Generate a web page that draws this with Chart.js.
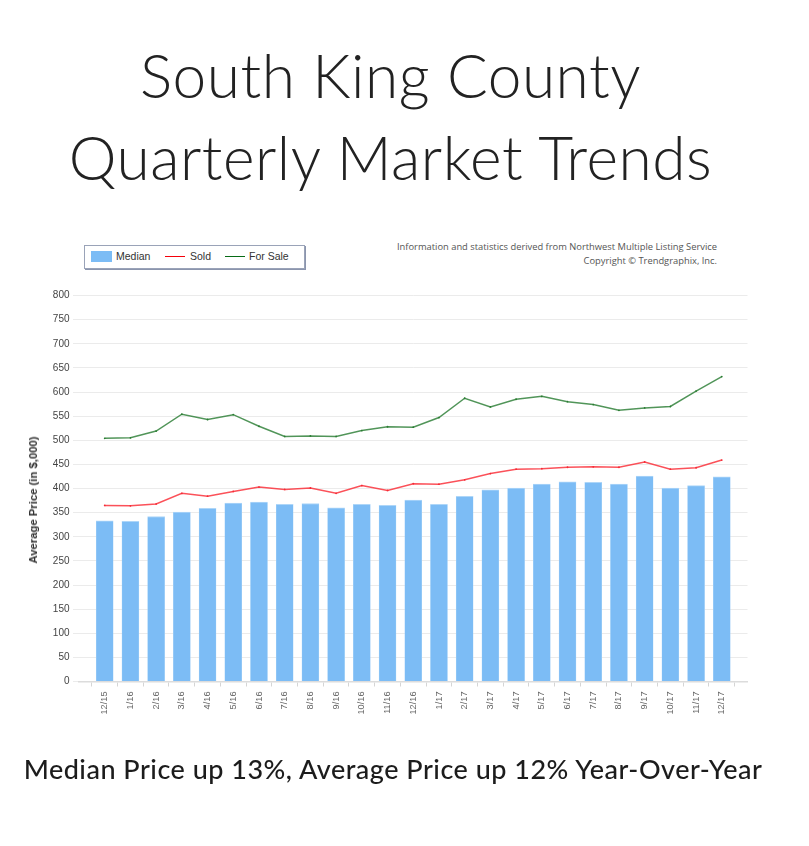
<!DOCTYPE html>
<html>
<head>
<meta charset="utf-8">
<script src="https://cdn.jsdelivr.net/npm/chart.js@4"></script>
<style>
html,body{margin:0;padding:0;background:#fff;}
#wrap{position:relative;width:809px;height:846px;overflow:hidden;}
canvas{position:absolute;left:0;top:0;}
.t{position:absolute;white-space:nowrap;}
.title{left:0;width:781px;text-align:center;font-family:Lato;font-weight:300;font-size:60.4px;color:#222;line-height:70px;letter-spacing:0.5px;}
.note{right:92px;font-family:"Open Sans";font-size:9.35px;color:#555;line-height:14px;text-align:right;}
#caption{left:0;width:786px;text-align:center;top:752px;font-family:Lato;font-weight:500;font-size:27px;line-height:34px;letter-spacing:0.5px;color:#1c1c1c;}
#ytitle{left:33px;top:500px;transform:translate(-50%,-50%) rotate(-90deg);font-family:"Liberation Sans";font-weight:bold;font-size:11.3px;color:#333;}
#legend{position:absolute;left:84px;top:245px;width:219px;height:22px;border:1px solid #9aa3b8;box-shadow:1px 1px 0 #8b95ad;font-family:"Liberation Sans";font-size:10.5px;color:#333;}
#legend span{position:absolute;top:3px;line-height:14px;}
#legend i{position:absolute;display:block;}
</style>
</head>
<body>
<div id="wrap">
<div class="t title" style="top:40px">South King County</div>
<div class="t title" style="top:122px">Quarterly Market Trends</div>
<div class="t note" style="top:240px">Information and statistics derived from Northwest Multiple Listing Service</div>
<div class="t note" style="top:254px">Copyright © Trendgraphix, Inc.</div>
<div id="legend"></div>
<canvas id="c" width="809" height="846"></canvas>
<div class="t" id="ytitle"></div>
<div class="t" id="caption">Median Price up 13%, Average Price up 12% Year-Over-Year</div>
</div>
<script>
const categories = ["12/15","1/16","2/16","3/16","4/16","5/16","6/16","7/16","8/16","9/16","10/16","11/16","12/16","1/17","2/17","3/17","4/17","5/17","6/17","7/17","8/17","9/17","10/17","11/17","12/17"];
const median = [333,332,342,351,359,370,372,367,369,360,367,365,376,367,384,397,401,409,414,413,409,426,401,406,424];
const sold = [365,364,368,390,384,394,403,398,401,390,406,396,410,409,418,431,440,441,444,445,444,455,440,443,459];
const forSale = [504,505,519,554,543,553,529,508,509,508,520,528,527,547,587,569,585,591,580,574,562,567,570,602,632];
const yTicks = [0,50,100,150,200,250,300,350,400,450,500,550,600,650,700,750,800];
const seriesNames = ["Median","Sold","For Sale"];
const yTitle = "Average Price (in $,000)";

document.getElementById('ytitle').textContent = yTitle;
const pad = a => [null, ...a, null];
const chart = new Chart(document.getElementById('c'), {
  type: 'bar',
  data: {
    labels: ['', ...categories, ''],
    datasets: [
      {type:'line', label:seriesNames[2], data:pad(forSale), borderColor:'rgba(50,130,60,0.85)', backgroundColor:'#076b16', pointBackgroundColor:'#2a7d32', borderWidth:1.5, pointRadius:0.9, pointBorderWidth:0, tension:0, order:1},
      {type:'line', label:seriesNames[1], data:pad(sold), borderColor:'rgba(250,50,60,0.85)', backgroundColor:'#f5000a', pointBackgroundColor:'#f52a35', borderWidth:1.5, pointRadius:0.9, pointBorderWidth:0, tension:0, order:2},
      {type:'bar', label:seriesNames[0], data:pad(median), backgroundColor:'#7cbcf5', borderColor:'#aed6f8', borderWidth:{top:1,left:0.5,right:0.5,bottom:0}, borderSkipped:false, barThickness:17, order:3}
    ]
  },
  options: {
    responsive:false, animation:false,
    layout:{padding:{top:295.5,right:61.5,left:0,bottom:0}},
    plugins:{legend:{display:false},tooltip:{enabled:false}},
    scales:{
      x:{
        offset:false,
        afterFit(s){s.height=164.5;},
        grid:{drawOnChartArea:false,drawTicks:true,tickLength:5,color:'#d5d5d5'},
        border:{color:'#dcdcdc',width:1.5},
        ticks:{autoSkip:false,minRotation:90,maxRotation:90,padding:5,font:{family:'"Liberation Sans"',size:9.2},color:'#666'}
      },
      y:{
        min:0,max:800,
        afterBuildTicks(s){s.ticks=yTicks.map(v=>({value:v}));},
        afterFit(s){s.width=79;},
        grid:{color:'#ebebeb',lineWidth:1,tickLength:6},
        border:{display:false},
        ticks:{padding:3.5,font:{family:'"Liberation Sans"',size:10},color:'#444'}
      }
    }
  }
});

// Legend built from the chart's datasets
const lg = document.getElementById('legend');
const slots = {"Median":[6,31],"Sold":[80,105],"For Sale":[140,164]};
[...chart.data.datasets].reverse().forEach(d=>{
  const [sx,tx] = slots[d.label];
  const i = document.createElement('i');
  if(d.type==='bar'){i.style.cssText=`left:${sx}px;top:5px;width:21px;height:11px;background:${d.backgroundColor}`;}
  else{i.style.cssText=`left:${sx}px;top:9.5px;width:20px;height:1.5px;background:${d.backgroundColor}`;}
  const s = document.createElement('span');
  s.style.left=tx+'px'; s.textContent=d.label;
  lg.append(i,s);
});
</script>
</body>
</html>
